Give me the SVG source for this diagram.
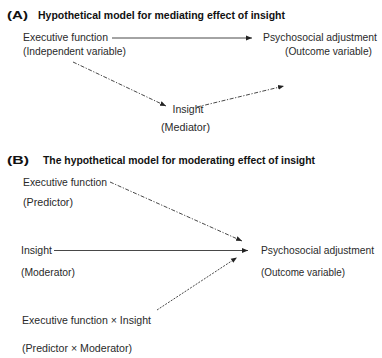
<svg xmlns="http://www.w3.org/2000/svg" width="382" height="358" viewBox="0 0 382 358">
<defs>
<marker id="ah" markerUnits="userSpaceOnUse" markerWidth="7" markerHeight="6" refX="6" refY="3" orient="auto">
<path d="M0,0.6 L6,3 L0,5.4 Z" fill="#222"/>
</marker>
<style>
text{font-family:"Liberation Sans",Arial,sans-serif;font-size:10.3px;fill:#2a2a2a}
.t{font-weight:bold;font-size:10.4px;fill:#111}
.lab{font-weight:bold;font-size:11.5px;fill:#111}
.c{fill:none;stroke:#333;stroke-width:0.9;marker-end:url(#ah)}
.dash{stroke-dasharray:4 1.6 1.2 1.6}
.dot{stroke-dasharray:2 1.3}
</style>
</defs>
<rect width="382" height="358" fill="#fff"/>
<g id="titleA">
<text class="lab" x="7" y="19" textLength="21" lengthAdjust="spacingAndGlyphs">(A)</text>
<text class="t" x="38" y="19" textLength="247" lengthAdjust="spacingAndGlyphs">Hypothetical model for mediating effect of insight</text>
</g>
<g id="a-ef">
<text x="23" y="40.5" textLength="85" lengthAdjust="spacingAndGlyphs">Executive function</text>
<text x="23" y="54.5" textLength="103" lengthAdjust="spacingAndGlyphs">(Independent variable)</text>
</g>
<g id="a-psa">
<text x="263" y="40.5" textLength="114" lengthAdjust="spacingAndGlyphs">Psychosocial adjustment</text>
<text x="285" y="54.5" textLength="87" lengthAdjust="spacingAndGlyphs">(Outcome variable)</text>
</g>
<g id="a-ins">
<text x="172.5" y="112.5" textLength="31" lengthAdjust="spacingAndGlyphs">Insight</text>
<text x="161" y="130.5" textLength="49" lengthAdjust="spacingAndGlyphs">(Mediator)</text>
</g>
<g id="titleB">
<text class="lab" x="7" y="163.5" textLength="22" lengthAdjust="spacingAndGlyphs">(B)</text>
<text class="t" x="43" y="163.5" textLength="272" lengthAdjust="spacingAndGlyphs">The hypothetical model for moderating effect of insight</text>
</g>
<g id="b-ef">
<text x="23" y="186" textLength="84" lengthAdjust="spacingAndGlyphs">Executive function</text>
<text x="23" y="206" textLength="50" lengthAdjust="spacingAndGlyphs">(Predictor)</text>
</g>
<g id="b-ins">
<text x="21" y="253.5" textLength="31" lengthAdjust="spacingAndGlyphs">Insight</text>
<text x="21" y="276" textLength="54" lengthAdjust="spacingAndGlyphs">(Moderator)</text>
</g>
<g id="b-psa">
<text x="261" y="253.5" textLength="113" lengthAdjust="spacingAndGlyphs">Psychosocial adjustment</text>
<text x="261" y="276" textLength="84" lengthAdjust="spacingAndGlyphs">(Outcome variable)</text>
</g>
<g id="b-int">
<text x="22" y="324" textLength="129" lengthAdjust="spacingAndGlyphs">Executive function × Insight</text>
<text x="22" y="352" textLength="110" lengthAdjust="spacingAndGlyphs">(Predictor × Moderator)</text>
</g>
<g id="connectors">
<line class="c" x1="112" y1="38" x2="252" y2="38"/>
<line class="c dash" x1="73" y1="62" x2="166" y2="106"/>
<line class="c dash" x1="197" y1="107" x2="284" y2="86"/>
<line class="c dash" x1="110" y1="182" x2="242" y2="241"/>
<line class="c" x1="54" y1="250.5" x2="248" y2="250.5"/>
<line class="c dot" x1="157" y1="310" x2="237" y2="257.5"/>
</g>
</svg>
